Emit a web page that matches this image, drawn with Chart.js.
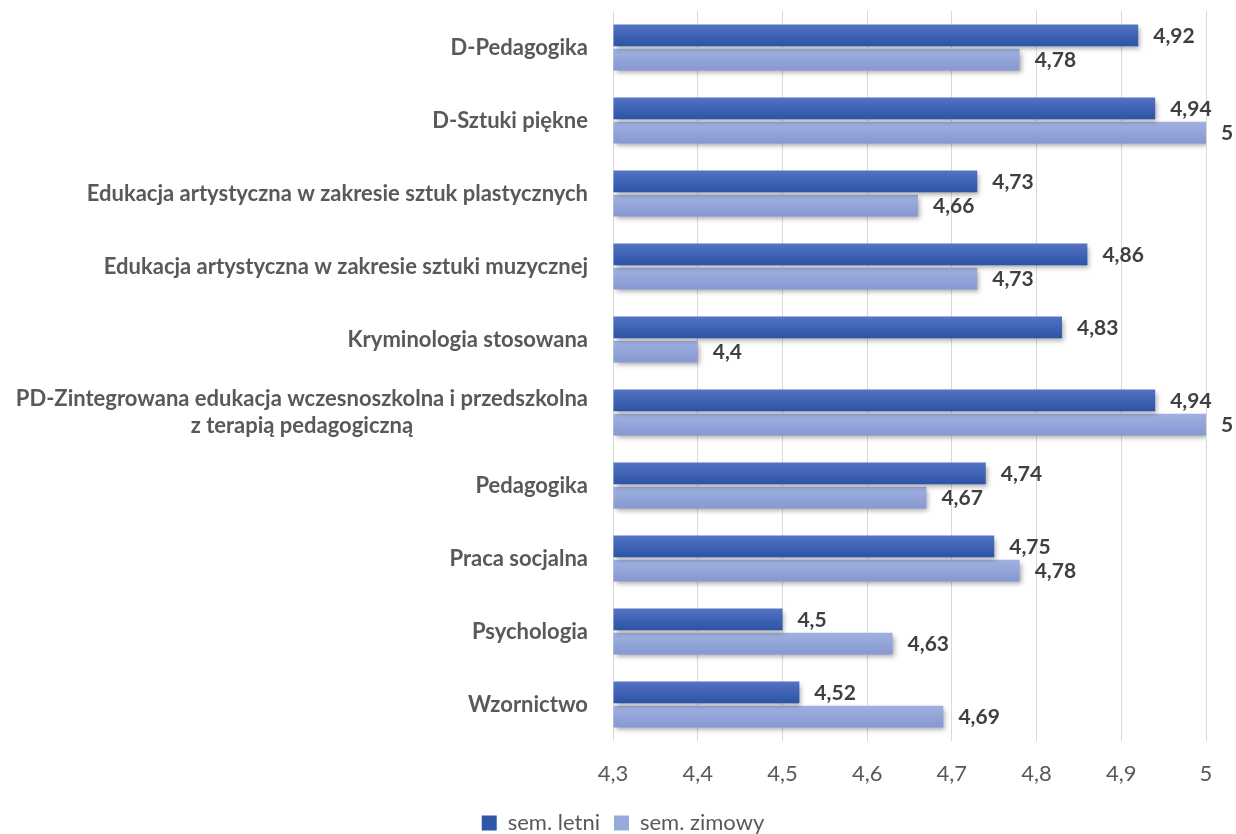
<!DOCTYPE html>
<html>
<head>
<meta charset="utf-8">
<script src="https://cdn.jsdelivr.net/npm/chart.js@4"></script>
<style>
  html, body { margin: 0; padding: 0; background: #fff; }
  #wrap { width: 1236px; height: 834px; }
</style>
</head>
<body>
<div id="wrap"><canvas id="bar-chart"></canvas></div>
<script>
const categories = [
  'D-Pedagogika',
  'D-Sztuki piękne',
  'Edukacja artystyczna w zakresie sztuk plastycznych',
  'Edukacja artystyczna w zakresie sztuki muzycznej',
  'Kryminologia stosowana',
  ['PD-Zintegrowana edukacja wczesnoszkolna i przedszkolna', 'z terapią pedagogiczną'],
  'Pedagogika',
  'Praca socjalna',
  'Psychologia',
  'Wzornictwo'
];

const semLetni = [4.92, 4.94, 4.73, 4.86, 4.83, 4.94, 4.74, 4.75, 4.5, 4.52];
const semZimowy = [4.78, 5, 4.66, 4.73, 4.4, 5, 4.67, 4.78, 4.63, 4.69];

const xTicks = [4.3, 4.4, 4.5, 4.6, 4.7, 4.8, 4.9, 5];

const CAT_PCT = 0.66;
const BAR_PCT = 0.9;
const FONT = 'Lato';

const fmt = v => String(Number(v.toFixed(2))).replace('.', ',');

// vertical gradient for each bar, based on the y scale
function barGradient(top, bottom) {
  return function(c) {
    const chart = c.chart;
    const y = chart.scales.y;
    if (!chart.chartArea || !y || c.dataIndex === undefined) return bottom;
    const size = (chart.chartArea.bottom - chart.chartArea.top) / categories.length;
    const slot = size * CAT_PCT / 2;
    const center = y.getPixelForValue(c.dataIndex) + (c.datasetIndex - 0.5) * slot;
    const h = slot * BAR_PCT;
    const g = chart.ctx.createLinearGradient(0, center - h / 2, 0, center + h / 2);
    g.addColorStop(0, top);
    g.addColorStop(1, bottom);
    return g;
  };
}

const shadowPlugin = {
  id: 'shadow',
  beforeDatasetsDraw(chart) {
    const ctx = chart.ctx;
    ctx.save();
    ctx.shadowColor = 'rgba(0,0,0,0.35)';
    ctx.shadowBlur = 5;
    ctx.shadowOffsetX = 2;
    ctx.shadowOffsetY = 3;
  },
  afterDatasetsDraw(chart) {
    chart.ctx.restore();
  }
};

const labelsPlugin = {
  id: 'labels',
  afterDraw(chart) {
    const ctx = chart.ctx;
    const area = chart.chartArea;
    ctx.save();
    // value labels
    ctx.font = 'bold 21px ' + FONT;
    ctx.fillStyle = '#404040';
    ctx.textAlign = 'left';
    ctx.textBaseline = 'middle';
    chart.data.datasets.forEach((ds, di) => {
      chart.getDatasetMeta(di).data.forEach((bar, i) => {
        ctx.fillText(fmt(ds.data[i]), bar.x + 15, bar.y + 1);
      });
    });
    // category labels
    ctx.font = 'bold 22px ' + FONT;
    ctx.fillStyle = '#595959';
    const right = area.left - 25;
    const lineH = 27;
    categories.forEach((lab, i) => {
      const yc = chart.scales.y.getPixelForValue(i);
      if (Array.isArray(lab)) {
        const w = Math.max(...lab.map(l => ctx.measureText(l).width));
        ctx.textAlign = 'center';
        lab.forEach((l, k) => {
          ctx.fillText(l, right - w / 2, yc + (k - (lab.length - 1) / 2) * lineH);
        });
      } else {
        ctx.textAlign = 'right';
        ctx.fillText(lab, right, yc);
      }
    });
    ctx.restore();
  }
};

new Chart(document.getElementById('bar-chart'), {
  type: 'bar',
  data: {
    labels: categories,
    datasets: [{
      label: 'sem. letni',
      data: semLetni,
      base: 4.3,
      backgroundColor: barGradient('#5473c4', '#2b53a6'),
      categoryPercentage: CAT_PCT,
      barPercentage: BAR_PCT
    },
    {
      label: 'sem. zimowy',
      data: semZimowy,
      base: 4.3,
      backgroundColor: barGradient('#a0b1e0', '#8798d2'),
      categoryPercentage: CAT_PCT,
      barPercentage: BAR_PCT
    }]
  },
  options: {
    indexAxis: 'y',
    responsive: true,
    maintainAspectRatio: false,
    animation: false,
    layout: {
      padding: { left: 40, right: 30, top: 11, bottom: -10 }
    },
    scales: {
      x: {
        min: 4.3,
        max: 5,
        afterBuildTicks(scale) {
          scale.ticks = xTicks.map(v => ({ value: v }));
        },
        afterFit(scale) {
          scale.height = 57;
        },
        grid: { color: '#d9d9d9', lineWidth: 1, drawTicks: false },
        border: { display: false },
        ticks: {
          callback: v => fmt(v),
          color: '#595959',
          font: { family: FONT, size: 22 },
          padding: 20
        }
      },
      y: {
        afterFit(scale) {
          scale.width = 573;
        },
        grid: { display: false },
        border: { display: false },
        ticks: { display: false }
      }
    },
    plugins: {
      legend: {
        position: 'bottom',
        labels: {
          boxWidth: 15,
          boxHeight: 15,
          color: '#595959',
          font: { family: FONT, size: 22 },
          padding: 14,
          generateLabels(chart) {
            const cols = ['#2f56a8', '#98aadc'];
            return chart.data.datasets.map((ds, i) => ({
              text: ds.label,
              fillStyle: cols[i],
              strokeStyle: cols[i],
              lineWidth: 0,
              fontColor: '#595959',
              datasetIndex: i
            }));
          }
        }
      },
      tooltip: { enabled: false }
    }
  },
  plugins: [shadowPlugin, labelsPlugin]
});
</script>
</body>
</html>
